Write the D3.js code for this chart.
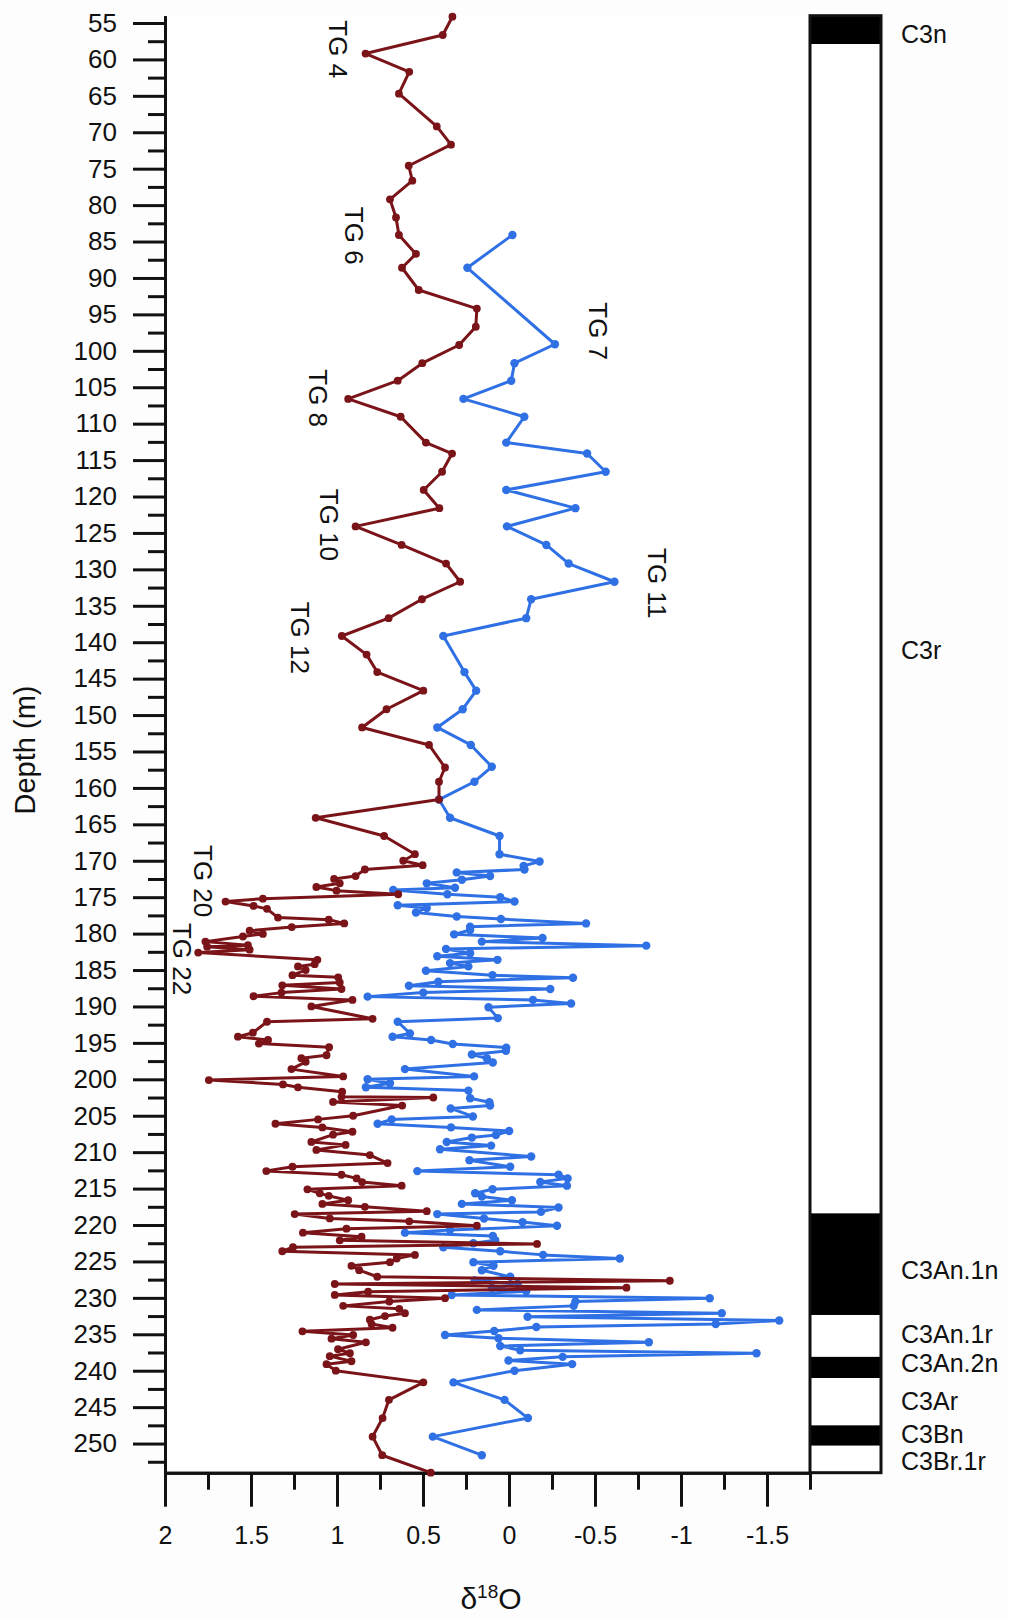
<!DOCTYPE html>
<html>
<head>
<meta charset="utf-8">
<script src="https://cdn.jsdelivr.net/npm/d3@7"></script>
<style>
	body { margin: 0; background: #fdfdfd; }
	text { font-family: "Liberation Sans", Arial, sans-serif; fill: #111; }
</style>
</head>
<body>
<div id="chart"></div>
<script>
// oxygen isotope record, red = benthic (?), blue = planktic; depth in m
var redDepth = [54.14, 56.65, 59.2, 61.7, 64.7, 69.2, 71.7, 74.6, 76.65, 79.2, 81.7, 84.1, 86.7, 88.6, 91.65, 94.2, 96.7, 99.2,
	101.7, 104.1, 106.6, 109.05, 112.6, 114.1, 116.6, 119.1, 121.6, 124.1, 126.65, 129.2, 131.7, 134.1, 136.7, 139.15,
	141.7, 144.1, 146.65, 149.2, 151.7, 154.1, 157.2, 159.15, 161.6, 164.1, 166.6, 169.1, 170.0, 170.6, 171.2, 172.1,
	172.5, 173.1, 173.6, 174.1, 174.6, 175.2, 175.6, 176.2, 176.6, 177.8, 178.1, 178.6, 179.1, 179.6, 180.05, 180.4,
	181.1, 181.6, 181.8, 182.2, 182.6, 183.6, 184.2, 184.5, 185.0, 185.7, 186.0, 186.7, 187.1, 187.6, 188.1, 188.6,
	189.1, 190.0, 191.7, 192.1, 193.6, 194.15, 194.6, 195.1, 195.6, 196.7, 197.1, 197.6, 198.6, 199.6, 200.1, 200.7,
	201.1, 201.7, 202.4, 202.5, 203.1, 203.6, 205.0, 205.5, 206.1, 206.6, 207.2, 207.6, 208.6, 209.0, 209.7, 210.4,
	211.5, 212.0, 212.6, 213.1, 213.6, 214.1, 214.6, 215.1, 215.65, 216.0, 216.6, 217.1, 217.5, 218.1, 218.5, 219.1,
	219.5, 220.1, 220.5, 221.05, 221.6, 222.1, 222.6, 223.05, 223.6, 224.1, 224.6, 225.1, 225.6, 226.2, 227.1, 227.65,
	228.1, 228.6, 229.15, 229.6, 230.05, 230.5, 231.1, 231.5, 232.1, 232.5, 233.0, 233.6, 234.1, 234.6, 235.1, 235.6,
	236.1, 237.05, 237.6, 238.0, 238.7, 239.1, 240.0, 241.6, 244.0, 246.5, 249.05, 251.6, 254.0];
var redValue = [0.329, 0.385, 0.834, 0.58, 0.64, 0.42, 0.337, 0.583, 0.562, 0.692, 0.657, 0.64, 0.541, 0.622, 0.525, 0.187, 0.193, 0.29,
	0.504, 0.647, 0.935, 0.63, 0.483, 0.331, 0.389, 0.496, 0.405, 0.892, 0.624, 0.366, 0.284, 0.506, 0.7, 0.972,
	0.828, 0.766, 0.498, 0.712, 0.854, 0.465, 0.372, 0.407, 0.407, 1.124, 0.726, 0.547, 0.615, 0.502, 0.838, 0.892,
	1.017, 0.984, 1.12, 1.003, 0.644, 1.431, 1.648, 1.485, 1.407, 1.343, 1.048, 0.958, 1.263, 1.508, 1.431, 1.547,
	1.765, 1.518, 1.755, 1.508, 1.807, 1.114, 1.13, 1.227, 1.182, 1.259, 0.993, 0.984, 1.318, 0.974, 1.323, 1.485,
	0.91, 1.149, 0.793, 1.407, 1.489, 1.576, 1.401, 1.454, 1.046, 1.061, 1.207, 1.182, 1.265, 0.964, 1.745, 1.314,
	1.227, 0.97, 0.974, 0.44, 1.023, 0.621, 0.906, 1.11, 1.358, 1.085, 0.91, 1.023, 1.149, 0.95, 1.12, 0.809,
	0.706, 1.259, 1.411, 0.974, 0.886, 0.854, 0.624, 1.172, 1.1, 1.048, 0.935, 1.085, 0.838, 0.478, 1.246, 1.042,
	0.58, 0.187, 0.945, 1.198, 0.857, 0.984, -0.163, 1.256, 1.318, 0.547, 0.653, 0.692, 0.916, 0.871, 0.766, -0.935,
	1.013, -0.683, 0.819, 1.013, 0.372, 0.696, 0.964, 0.638, 0.605, 0.721, 0.809, 0.799, 0.677, 1.201, 0.906, 1.032,
	0.832, 0.994, 0.925, 1.042, 0.916, 1.061, 1.007, 0.498, 0.698, 0.735, 0.793, 0.737, 0.455];

var blueDepth = [84.1, 88.6, 99.1, 101.7, 104.1, 106.6, 109.05, 112.6, 114.1, 116.6, 119.1, 121.6, 124.1, 126.65, 129.2, 131.7,
	134.1, 136.7, 139.15, 144.1, 146.65, 149.2, 151.7, 154.1, 157.1, 159.15, 161.6, 164.1, 166.6, 169.1, 170.1, 170.7,
	171.2, 171.6, 172.1, 172.6, 173.1, 173.7, 174.0, 174.6, 175.0, 175.6, 176.1, 176.5, 177.1, 177.65, 178.0, 178.6,
	179.05, 179.5, 180.1, 180.6, 181.1, 181.65, 182.1, 182.7, 183.1, 183.6, 184.05, 184.5, 185.1, 185.7, 186.05, 186.6,
	187.15, 187.6, 188.1, 188.65, 189.1, 189.6, 190.1, 191.6, 192.1, 193.7, 194.15, 194.6, 195.15, 195.65, 196.1, 196.6,
	197.1, 197.7, 198.6, 199.6, 200.0, 200.55, 201.1, 201.55, 202.6, 203.15, 203.6, 204.0, 205.1, 205.5, 206.1, 206.6,
	207.1, 207.65, 208.0, 208.6, 209.1, 209.6, 210.6, 211.1, 212.0, 212.6, 213.1, 213.6, 214.1, 214.6, 215.1, 215.65,
	216.1, 216.6, 217.1, 217.6, 218.2, 218.5, 219.1, 219.6, 220.1, 220.7, 221.05, 221.5, 222.1, 222.5, 223.05, 223.6,
	224.1, 224.6, 225.1, 225.6, 226.2, 227.1, 227.6, 228.1, 228.6, 229.1, 229.6, 230.05, 230.5, 231.1, 231.65, 232.1,
	232.6, 233.1, 233.6, 234.0, 234.55, 235.1, 235.55, 236.1, 236.6, 237.2, 237.6, 238.1, 238.6, 239.1, 240.0, 241.6,
	244.0, 246.5, 249.05, 251.6];
var blueValue = [-0.02, 0.242, -0.267, -0.032, -0.013, 0.265, -0.089, 0.016, -0.454, -0.562, 0.016, -0.386, 0.012, -0.217, -0.347, -0.613,
	-0.129, -0.1, 0.382, 0.259, 0.191, 0.269, 0.417, 0.222, 0.1, 0.201, 0.407, 0.343, 0.055, 0.055, -0.178, -0.085,
	-0.09, 0.304, 0.11, 0.274, 0.478, 0.314, 0.673, 0.358, 0.051, -0.032, 0.647, 0.478, 0.541, 0.304, 0.047, -0.448,
	0.226, 0.226, 0.319, -0.195, 0.158, -0.798, 0.366, 0.226, 0.417, 0.067, 0.343, 0.236, 0.483, 0.096, -0.372, 0.411,
	0.582, -0.24, 0.498, 0.822, -0.139, -0.361, 0.119, 0.065, 0.647, 0.576, 0.677, 0.453, 0.327, 0.016, 0.018, 0.216,
	0.129, 0.094, 0.605, 0.203, 0.822, 0.692, 0.832, 0.236, 0.226, 0.114, 0.11, 0.339, 0.21, 0.682, 0.764, 0.337,
	-0.001, 0.076, 0.216, 0.362, 0.104, 0.401, -0.129, 0.23, -0.007, 0.533, -0.288, -0.341, -0.182, -0.337, 0.096, 0.197,
	0.158, -0.017, 0.274, -0.288, -0.186, 0.417, 0.145, -0.079, -0.279, 0.343, 0.605, 0.094, 0.08, 0.207, 0.382, 0.051,
	-0.198, -0.644, 0.207, 0.09, 0.158, -0.007, 0.2, -0.05, 0.1, -0.1, 0.333, -1.167, -0.386, -0.376, 0.187, -1.237,
	-0.108, -1.571, -1.202, -0.159, 0.086, 0.372, 0.061, -0.813, 0.051, -0.065, -1.439, -0.312, 0.003, -0.367, -0.032, 0.323,
	0.026, -0.11, 0.443, 0.158];

// TG labels
var tgNames = ["TG 4", "TG 6", "TG 8", "TG 7", "TG 10", "TG 11", "TG 12", "TG 20", "TG 22"];
var tgValue = [0.994, 0.901, 1.11, -0.517, 1.047, -0.86, 1.215, 1.779, 1.901];
var tgDepth = [58.6, 84.2, 106.5, 97.3, 123.9, 131.9, 139.4, 172.8, 183.5];

// magnetostratigraphy
var chronNames = ["C3n", "C3r", "C3An.1n", "C3An.1r", "C3An.2n", "C3Ar", "C3Bn", "C3Br.1r"];
var chronTop = [54, 57.9, 218.4, 232.35, 238.1, 241, 247.5, 250.3];
var chronBase = [57.9, 218.4, 232.35, 238.1, 241, 247.5, 250.3, 254];
var chronNormal = [true, false, true, false, true, false, true, false];
var chronLabelDepth = [56.5, 141.1, 226.2, 235.0, 239.0, 244.2, 248.7, 252.4];

var xTicks = [2, 1.5, 1, 0.5, 0, -0.5, -1, -1.5];
var xMinor = [1.75, 1.25, 0.75, 0.25, -0.25, -0.75, -1.25, -1.75];

var colors = {
	red: '#7a1418',
	blue: '#2f70e4',
	axis: '#111'
}

var width = 1009;
var height = 1618;

var svg = d3.select("#chart")
	.append("svg")
	.attr("width", width)
	.attr("height", height);

var x = d3.scaleLinear().domain([2, -1.75]).range([165, 810]);
var y = d3.scaleLinear().domain([54, 254]).range([15.7, 1472.7]);

var colLeft = 810, colRight = 881;

svg.append('rect')
	.attr('x', 165).attr('y', 15.7)
	.attr('width', colLeft - 165).attr('height', y(254) - y(54))
	.attr('fill', '#fff');

// magnetic polarity column
var chrons = chronNames.map(function(n, i) {
	return { name: n, top: chronTop[i], base: chronBase[i], normal: chronNormal[i], label: chronLabelDepth[i] };
});

svg.append('g').selectAll('rect')
	.data(chrons).enter()
	.append('rect')
	.attr('x', colLeft)
	.attr('width', colRight - colLeft)
	.attr('y', function(d) { return y(d.top); })
	.attr('height', function(d) { return y(d.base) - y(d.top); })
	.attr('fill', function(d) { return d.normal ? '#000' : '#fff'; });

svg.append('rect')
	.attr('x', colLeft).attr('y', y(54))
	.attr('width', colRight - colLeft).attr('height', y(254) - y(54))
	.attr('fill', 'none')
	.attr('stroke', colors.axis)
	.attr('stroke-width', 3);

svg.append('g').selectAll('text')
	.data(chrons).enter()
	.append('text')
	.attr('x', 901)
	.attr('y', function(d) { return y(d.label); })
	.attr('dominant-baseline', 'central')
	.style('font-size', '25px')
	.text(function(d) { return d.name; });

// axes
var yAxis = svg.append('g')
	.attr('transform', 'translate(165,0)')
	.call(d3.axisLeft(y).tickValues(d3.range(55, 251, 5)).tickSize(32).tickSizeOuter(0).tickPadding(16));
var yMinor = svg.append('g')
	.attr('transform', 'translate(165,0)')
	.call(d3.axisLeft(y).tickValues(d3.range(57.5, 254, 5)).tickSize(17).tickSizeOuter(0).tickFormat(''));

var xAxis = svg.append('g')
	.attr('transform', 'translate(0,' + y(254) + ')')
	.call(d3.axisBottom(x).tickValues(xTicks).tickSize(34).tickSizeOuter(0).tickPadding(20)
		.tickFormat(function(d) { return String(d); }));
var xMin = svg.append('g')
	.attr('transform', 'translate(0,' + y(254) + ')')
	.call(d3.axisBottom(x).tickValues(xMinor).tickSize(17).tickSizeOuter(0).tickFormat(''));

[yAxis, yMinor, xAxis, xMin].forEach(function(g) {
	g.selectAll('path, line').attr('stroke', colors.axis).attr('stroke-width', 3);
	g.selectAll('text').style('font-size', '26px').attr('fill', '#111')
		.style('font-family', '"Liberation Sans", Arial, sans-serif');
});
xAxis.selectAll('text').style('font-size', '25px');

svg.append('text')
	.attr('transform', 'translate(25,750) rotate(-90)')
	.attr('text-anchor', 'middle')
	.attr('dominant-baseline', 'central')
	.style('font-size', '29px')
	.text('Depth (m)');

var dlab = svg.append('text')
	.attr('x', 491).attr('y', 1609)
	.attr('text-anchor', 'middle')
	.style('font-size', '30px');
dlab.append('tspan').text('δ');
dlab.append('tspan').attr('dy', -11).style('font-size', '19px').text('18');
dlab.append('tspan').attr('dy', 11).text('O');

// series
function drawSeries(depths, values, color, r) {
	var pts = depths.map(function(d, i) { return [values[i], d]; });
	var line = d3.line()
		.x(function(d) { return x(d[0]); })
		.y(function(d) { return y(d[1]); });
	var g = svg.append('g');
	g.append('path')
		.attr('d', line(pts))
		.attr('fill', 'none')
		.attr('stroke', color)
		.attr('stroke-width', 3)
		.attr('stroke-linejoin', 'round');
	g.selectAll('circle')
		.data(pts).enter()
		.append('circle')
		.attr('cx', function(d) { return x(d[0]); })
		.attr('cy', function(d) { return y(d[1]); })
		.attr('r', r)
		.attr('fill', color);
}

drawSeries(blueDepth, blueValue, colors.blue, 4.2);
drawSeries(redDepth, redValue, colors.red, 3.9);

// TG labels
svg.append('g').selectAll('text')
	.data(tgNames).enter()
	.append('text')
	.attr('transform', function(d, i) { return 'translate(' + x(tgValue[i]) + ',' + y(tgDepth[i]) + ') rotate(90)'; })
	.attr('text-anchor', 'middle')
	.attr('dominant-baseline', 'central')
	.style('font-size', '26px')
	.text(function(d) { return d; });
</script>
</body>
</html>
